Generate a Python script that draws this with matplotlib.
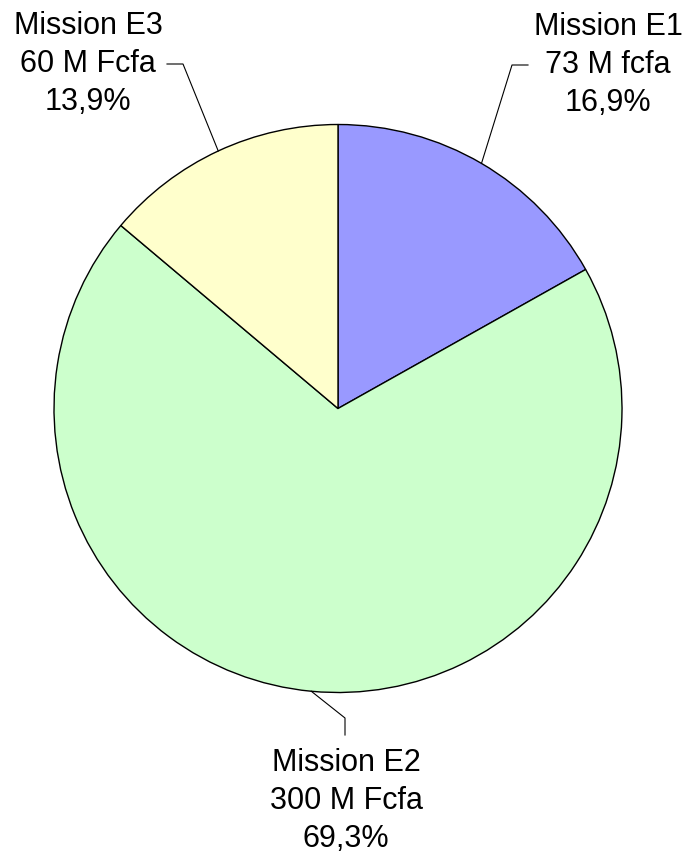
import numpy as np
import matplotlib
matplotlib.use("Agg")
import matplotlib.pyplot as plt

labels = ["Mission E1", "Mission E2", "Mission E3"]
amounts = ["73 M fcfa", "300 M Fcfa", "60 M Fcfa"]
values = [73, 300, 60]
colors = ["#9999FF", "#CCFFCC", "#FFFFCC"]

W, H = 688, 855
fig = plt.figure(figsize=(W / 100, H / 100), dpi=100)
ax = fig.add_axes([0, 0, 1, 1])

cx, cy, r = 338, H - 408.5, 284
wedges, _ = ax.pie(values, colors=colors, startangle=90, counterclock=False,
                   center=(cx, cy), radius=r,
                   wedgeprops=dict(edgecolor="black", linewidth=1.0))
ax.set_xlim(0, W)
ax.set_ylim(0, H)
ax.set_aspect("auto")
ax.axis("off")

total = sum(values)
pcts = [v / total * 100 for v in values]

# label block centres and elbow points (pixel coords, y from top)
text_pos = [(608, 65), (346, 801), (88, 64)]
elbows = [[(528, 65), (512, 65)], [(345, 735), (345, 718)], [(167, 64), (183, 64)]]

for w, lab, amt, p, tp, el in zip(wedges, labels, amounts, pcts, text_pos, elbows):
    mid = np.deg2rad((w.theta1 + w.theta2) / 2)
    ex, ey = cx + r * np.cos(mid), cy + r * np.sin(mid)
    xs = [el[0][0], el[1][0], ex]
    ys = [H - el[0][1], H - el[1][1], ey]
    ax.plot(xs, ys, color="black", linewidth=0.8)
    txt = f"{lab}\n{amt}\n{p:.1f}%".replace(".", ",")
    ax.text(tp[0], H - tp[1], txt, ha="center", va="center", fontsize=22,
            family="Liberation Sans", linespacing=1.33, color="black")

fig.savefig("out.png", dpi=100)
